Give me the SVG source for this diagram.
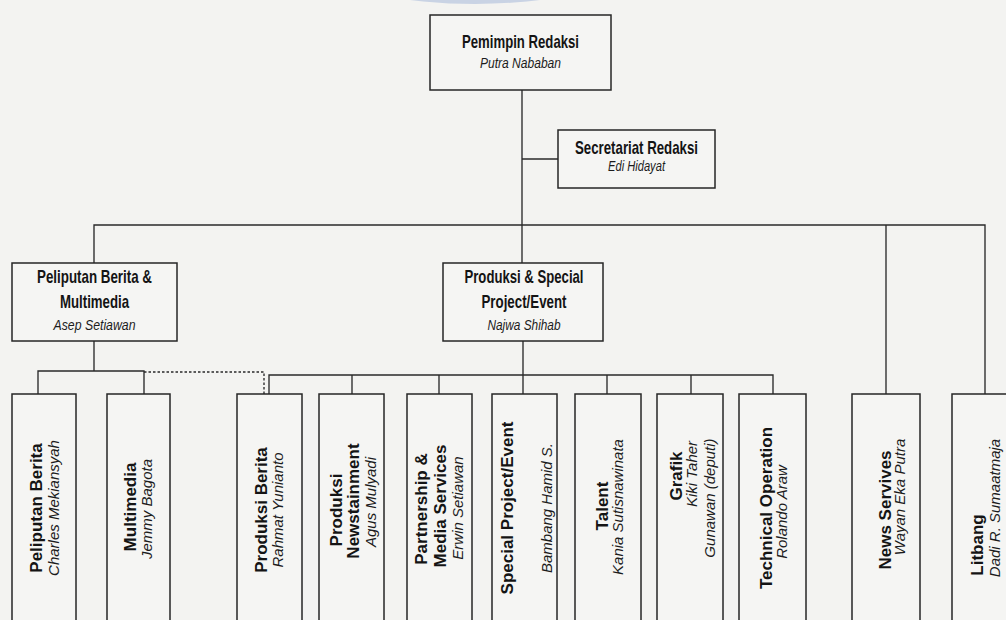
<svg xmlns="http://www.w3.org/2000/svg" width="1006" height="620" viewBox="0 0 1006 620">
  <style>
    .bg { fill: #f3f3f1; }
    .box { fill: #f5f5f3; stroke: #262626; stroke-width: 1.5; }
    .line { fill: none; stroke: #2a2a2a; stroke-width: 1.35; }
    .dash { fill: none; stroke: #2a2a2a; stroke-width: 1.35; stroke-dasharray: 2.5 2; }
    .hd { font-family: "Liberation Sans", Arial, sans-serif; font-weight: bold; font-size: 19px; fill: #141414; text-anchor: middle; }
    .nm { font-family: "Liberation Sans", Arial, sans-serif; font-style: italic; font-size: 15px; fill: #1c1c1c; text-anchor: middle; }
    .vt { font-family: "Liberation Sans", Arial, sans-serif; font-weight: bold; font-size: 17px; fill: #141414; text-anchor: middle; }
    .vn { font-family: "Liberation Sans", Arial, sans-serif; font-style: italic; font-size: 15px; fill: #1c1c1c; text-anchor: middle; }
  </style>

  <rect class="bg" x="0" y="0" width="1006" height="620"/>
  <!-- pale logo edge at the top margin -->
  <circle cx="475" cy="-524" r="528" fill="#c9d3e4"/>

  <!-- connectors -->
  <g id="connectors">
    <path class="line" d="M522 90 V263"/>
    <path class="line" d="M522 159 H558"/>
    <path class="line" d="M94 263 V225 H985 V394"/>
    <path class="line" d="M886 225 V394"/>
    <!-- Peliputan Berita & Multimedia branch -->
    <path class="line" d="M94 341 V371"/>
    <path class="line" d="M38 394 V371 H144 V394"/>
    <path class="dash" d="M144 372 H264 V394"/>
    <!-- Produksi & Special Project/Event branch -->
    <path class="line" d="M523 341 V394"/>
    <path class="line" d="M269 394 V375 H773 V394"/>
    <path class="line" d="M352 375 V394"/>
    <path class="line" d="M439 375 V394"/>
    <path class="line" d="M607 375 V394"/>
    <path class="line" d="M691 375 V394"/>
  </g>

  <!-- top level -->
  <g id="pemimpin-redaksi">
    <rect class="box" x="430" y="15" width="181" height="75"/>
    <text class="hd" x="520.5" y="48" textLength="117" lengthAdjust="spacingAndGlyphs">Pemimpin Redaksi</text>
    <text class="nm" x="520.5" y="68" textLength="81" lengthAdjust="spacingAndGlyphs">Putra Nababan</text>
  </g>

  <g id="secretariat-redaksi">
    <rect class="box" x="558" y="130" width="157" height="58"/>
    <text class="hd" x="636.5" y="154" font-size="18" textLength="123" lengthAdjust="spacingAndGlyphs">Secretariat Redaksi</text>
    <text class="nm" x="636.5" y="171" textLength="57" lengthAdjust="spacingAndGlyphs">Edi Hidayat</text>
  </g>

  <g id="peliputan-multimedia">
    <rect class="box" x="12" y="263" width="165" height="78"/>
    <text class="hd" x="94.5" y="283" font-size="18" textLength="115" lengthAdjust="spacingAndGlyphs">Peliputan Berita &amp;</text>
    <text class="hd" x="94.5" y="308" font-size="18" textLength="69" lengthAdjust="spacingAndGlyphs">Multimedia</text>
    <text class="nm" x="94.5" y="330" textLength="82" lengthAdjust="spacingAndGlyphs">Asep Setiawan</text>
  </g>

  <g id="produksi-special">
    <rect class="box" x="443" y="263" width="160" height="78"/>
    <text class="hd" x="524" y="283" font-size="18" textLength="119" lengthAdjust="spacingAndGlyphs">Produksi &amp; Special</text>
    <text class="hd" x="524" y="308" font-size="18" textLength="85" lengthAdjust="spacingAndGlyphs">Project/Event</text>
    <text class="nm" x="524" y="330" textLength="73" lengthAdjust="spacingAndGlyphs">Najwa Shihab</text>
  </g>

  <!-- unit boxes, labels read bottom to top -->
  <g id="peliputan-berita">
    <rect class="box" x="12" y="394" width="64" height="250"/>
    <text class="vt" transform="translate(42 508) rotate(-90)">Peliputan Berita</text>
    <text class="vn" transform="translate(59 508) rotate(-90)">Charles Mekiansyah</text>
  </g>

  <g id="multimedia">
    <rect class="box" x="107" y="394" width="63" height="250"/>
    <text class="vt" transform="translate(136 507) rotate(-90)">Multimedia</text>
    <text class="vn" transform="translate(152 509) rotate(-90)">Jemmy Bagota</text>
  </g>

  <g id="produksi-berita">
    <rect class="box" x="237" y="394" width="65" height="250"/>
    <text class="vt" transform="translate(267 510) rotate(-90)">Produksi Berita</text>
    <text class="vn" transform="translate(283 510) rotate(-90)">Rahmat Yunianto</text>
  </g>

  <g id="produksi-newstainment">
    <rect class="box" x="319" y="394" width="65" height="250"/>
    <text class="vt" transform="translate(342 510) rotate(-90)">Produksi</text>
    <text class="vt" transform="translate(359 501) rotate(-90)">Newstainment</text>
    <text class="vn" transform="translate(376 502) rotate(-90)">Agus Mulyadi</text>
  </g>

  <g id="partnership-media">
    <rect class="box" x="407" y="394" width="65" height="250"/>
    <text class="vt" transform="translate(427 509) rotate(-90)">Partnership &amp;</text>
    <text class="vt" transform="translate(446 506) rotate(-90)">Media Services</text>
    <text class="vn" transform="translate(463 508) rotate(-90)">Erwin Setiawan</text>
  </g>

  <g id="special-project">
    <rect class="box" x="492" y="394" width="65" height="250"/>
    <text class="vt" transform="translate(513 508) rotate(-90)">Special Project/Event</text>
    <text class="vn" transform="translate(552 508) rotate(-90)">Bambang Hamid S.</text>
  </g>

  <g id="talent">
    <rect class="box" x="575" y="394" width="66" height="250"/>
    <text class="vt" transform="translate(608 506) rotate(-90)">Talent</text>
    <text class="vn" transform="translate(623 507) rotate(-90)">Kania Sutisnawinata</text>
  </g>

  <g id="grafik">
    <rect class="box" x="657" y="394" width="66" height="250"/>
    <text class="vt" transform="translate(682 476) rotate(-90)">Grafik</text>
    <text class="vn" transform="translate(697 474) rotate(-90)">Kiki Taher</text>
    <text class="vn" transform="translate(715 498) rotate(-90)">Gunawan (deputi)</text>
  </g>

  <g id="technical-operation">
    <rect class="box" x="739" y="394" width="67" height="250"/>
    <text class="vt" transform="translate(772 508) rotate(-90)">Technical Operation</text>
    <text class="vn" transform="translate(787 512) rotate(-90)">Rolando Araw</text>
  </g>

  <g id="news-servives">
    <rect class="box" x="852" y="394" width="68" height="250"/>
    <text class="vt" transform="translate(891 510) rotate(-90)">News Servives</text>
    <text class="vn" transform="translate(905 497) rotate(-90)">Wayan Eka Putra</text>
  </g>

  <g id="litbang">
    <rect class="box" x="952" y="394" width="68" height="250"/>
    <text class="vt" transform="translate(983 545) rotate(-90)">Litbang</text>
    <text class="vn" transform="translate(1000 508) rotate(-90)">Dadi R. Sumaatmaja</text>
  </g>
</svg>
